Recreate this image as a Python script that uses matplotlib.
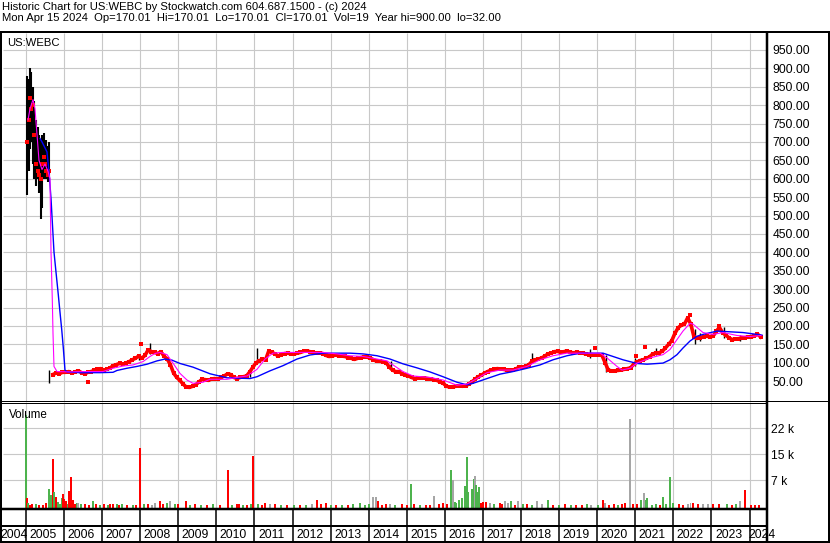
import matplotlib
matplotlib.use("Agg")
import matplotlib.pyplot as plt
from matplotlib.lines import Line2D

W, H = 830, 543
plt.rcParams.update({"font.family": ["Liberation Sans", "DejaVu Sans"], "font.size": 8.7})

TITLE1 = "Historic Chart for US:WEBC by Stockwatch.com 604.687.1500 - (c) 2024"
TITLE2 = ("Mon Apr 15 2024  Op=170.01  Hi=170.01  Lo=170.01  Cl=170.01  "
          "Vol=19  Year hi=900.00  lo=32.00")
SYMBOL = "US:WEBC"
YEARS = list(range(2005, 2025))

# early 2005 (pre-consolidation) bars
early_dates = [2005.026, 2005.066, 2005.105, 2005.144, 2005.184, 2005.223, 2005.263, 2005.302,
               2005.341, 2005.381, 2005.420, 2005.460, 2005.499, 2005.538, 2005.578, 2005.617]
early_hi = [880, 870, 900, 890, 850, 810, 760, 740, 720, 705, 720, 725, 700, 705, 690, 700]
early_lo = [555, 620, 680, 700, 640, 600, 580, 600, 560, 490, 520, 600, 610, 600, 590, 600]
early_close = [700, 760, 820, 790, 800, 720, 640, 620, 610, 600, 640, 660, 640, 620, 610, 620]

# monthly closes, Sep 2005 .. Apr 2024
close_start = 2005 + 8 / 12
closes = [
    68, 72, 70, 74,
    74, 76, 72, 75, 78, 73, 70, 74, 76, 79, 82, 84,
    80, 82, 86, 92, 95, 98, 96, 99, 103, 108, 112, 118,
    112, 120, 135, 130, 128, 125, 130, 118, 110, 95, 72, 60,
    52, 42, 34, 33, 36, 40, 48, 55, 54, 52, 56, 57,
    55, 60, 64, 70, 68, 60, 57, 60, 62, 64, 75, 88,
    100, 105, 110, 108, 132, 128, 124, 118, 122, 125, 126, 124,
    124, 126, 128, 131, 132, 130, 128, 126, 127, 125, 120, 117,
    118, 121, 119, 118, 117, 114, 112, 109, 112, 114, 116, 115,
    113, 108, 104, 104, 103, 100, 88, 80, 76, 76, 70, 66,
    64, 60, 57, 58, 58, 59, 57, 56, 54, 52, 48, 44,
    36, 34, 35, 36, 37, 36, 37, 42, 48, 55, 62, 66,
    72, 76, 80, 82, 84, 83, 82, 80, 79, 80, 84, 88,
    88, 90, 95, 104, 108, 110, 113, 118, 124, 126, 130, 131,
    128, 130, 132, 128, 127, 128, 127, 126, 124, 122, 122, 121,
    122, 120, 100, 80, 78, 78, 79, 80, 82, 84, 86, 96,
    102, 106, 108, 112, 116, 124, 126, 127, 131, 140, 150, 160,
    180, 195, 202, 205, 222, 205, 170, 166, 168, 171, 172, 171,
    172, 185, 196, 182, 175, 168, 163, 164, 165, 167, 168, 170,
    171, 172, 178, 170,
]
extra_dates = [2006.63, 2008.02, 2019.94, 2021.02, 2021.25, 2022.45, 2023.20]
extra_vals = [48, 151, 140, 118, 142, 231, 200]

spike_dates = [2005.60, 2007.98, 2008.26, 2010.88, 2011.06, 2014.58, 2018.30, 2019.80,
               2020.24, 2020.98, 2021.55, 2022.56, 2022.70, 2023.33, 2023.75]
spike_lo = [45, 108, 125, 62, 98, 82, 100, 113, 76, 90, 122, 152, 160, 168, 160]
spike_hi = [80, 125, 154, 78, 140, 106, 126, 136, 122, 112, 140, 192, 180, 196, 176]

ma_short_dates = [2005.053, 2005.105, 2005.184, 2005.236, 2005.289, 2005.341, 2005.420, 2005.499,
                  2005.578, 2005.630, 2005.657, 2005.691, 2005.709, 2005.735, 2005.814, 2006.155,
                  2006.549, 2007.022, 2007.285, 2007.547, 2007.810, 2008.073, 2008.256, 2008.388,
                  2008.519, 2008.703, 2008.860, 2009.044, 2009.228, 2009.385, 2009.648, 2009.832,
                  2010.278, 2010.541, 2010.804, 2011.066, 2011.276, 2011.486, 2011.749, 2012.117,
                  2012.458, 2012.800, 2013.167, 2013.508, 2013.850, 2014.217, 2014.480, 2014.638,
                  2014.900, 2015.163, 2015.609, 2015.951, 2016.318, 2016.581, 2016.844, 2017.106,
                  2017.448, 2017.789, 2018.157, 2018.498, 2018.840, 2019.207, 2019.680, 2020.074,
                  2020.258, 2020.520, 2020.651, 2020.861, 2021.045, 2021.387, 2021.728, 2021.912,
                  2022.096, 2022.253, 2022.437, 2022.516, 2022.779, 2023.042, 2023.305, 2023.672,
                  2024.013, 2024.302]
ma_short = [760, 790, 815, 790, 720, 650, 625, 640, 620, 600, 400, 270, 180, 90, 76, 75,
            76, 76, 85, 91, 94, 103, 117, 125, 128, 122, 99, 71, 53, 44, 47, 55,
            55, 60, 64, 82, 110, 126, 128, 128, 128, 128, 124, 119, 117, 110, 105, 94,
            76, 64, 60, 53, 39, 42, 57, 73, 80, 80, 90, 108, 119, 126, 126, 126,
            113, 90, 80, 85, 99, 113, 122, 136, 163, 186, 207, 205, 182, 177, 182, 174,
            171, 174]

ma_long_dates = [2005.368, 2005.420, 2005.551, 2005.604, 2005.657, 2005.696, 2005.735, 2005.788,
                 2005.848, 2005.893, 2005.938, 2005.980, 2006.024, 2006.077, 2006.418, 2006.943,
                 2007.285, 2007.390, 2007.652, 2007.915, 2008.178, 2008.440, 2008.650, 2008.834,
                 2009.044, 2009.385, 2009.832, 2010.278, 2010.882, 2011.066, 2011.408, 2011.749,
                 2012.117, 2012.458, 2012.800, 2013.508, 2013.850, 2014.217, 2014.559, 2014.900,
                 2015.268, 2015.609, 2015.951, 2016.318, 2016.581, 2016.739, 2017.106, 2017.448,
                 2017.789, 2018.157, 2018.498, 2018.840, 2019.207, 2019.548, 2020.152, 2020.415,
                 2020.677, 2021.045, 2021.308, 2021.728, 2021.912, 2022.096, 2022.253, 2022.437,
                 2022.621, 2022.779, 2023.147, 2023.489, 2023.830, 2024.197, 2024.328]
ma_long = [709, 700, 673, 619, 546, 473, 401, 346, 285, 237, 190, 140, 80, 75, 73, 73,
           74, 79, 85, 90, 96, 105, 110, 107, 98, 88, 70, 59, 57, 62, 78, 92,
           110, 121, 126, 126, 124, 119, 110, 97, 86, 75, 62, 47, 40, 44, 57, 69,
           76, 85, 94, 108, 119, 126, 126, 117, 108, 98, 96, 99, 108, 122, 140, 159,
           172, 177, 186, 184, 182, 177, 175]

# volume bars: g = up, r = down, k = unchanged
vol_dates = [
    2005.00, 2005.02, 2005.06, 2005.10, 2005.17, 2005.25, 2005.35, 2005.45, 2005.52, 2005.61,
    2005.66, 2005.72, 2005.74, 2005.79, 2005.85, 2005.90, 2005.94, 2005.96, 2006.01, 2006.05,
    2006.10, 2006.14, 2006.18, 2006.23, 2006.28, 2006.33, 2006.37, 2006.45, 2006.55, 2006.65,
    2006.75, 2006.85, 2006.95, 2007.05, 2007.15, 2007.20, 2007.29, 2007.38, 2007.45, 2007.51,
    2007.65, 2007.80, 2007.90, 2007.99, 2008.10, 2008.20, 2008.30, 2008.40, 2008.52, 2008.60,
    2008.70, 2008.78, 2008.91, 2009.00, 2009.19, 2009.30, 2009.45, 2009.60, 2009.75, 2009.90,
    2010.10, 2010.30, 2010.40, 2010.53, 2010.60, 2010.70, 2010.80, 2010.90, 2010.95, 2011.10,
    2011.20, 2011.28, 2011.41, 2011.55, 2011.70, 2011.85, 2012.05, 2012.20, 2012.35, 2012.50,
    2012.63, 2012.75, 2012.88, 2013.00, 2013.15, 2013.30, 2013.45, 2013.60, 2013.77, 2013.90,
    2014.00, 2014.10, 2014.19, 2014.24, 2014.35, 2014.45, 2014.56, 2014.70, 2014.87, 2015.00,
    2015.10, 2015.20, 2015.35, 2015.50, 2015.60, 2015.72, 2015.85, 2015.96, 2016.05, 2016.16,
    2016.21, 2016.27, 2016.30, 2016.37, 2016.44, 2016.53, 2016.57, 2016.61, 2016.72, 2016.76,
    2016.79, 2016.82, 2016.86, 2016.90, 2016.95, 2016.99, 2017.07, 2017.18, 2017.30, 2017.44,
    2017.50, 2017.58, 2017.65, 2017.74, 2017.85, 2017.93, 2018.05, 2018.15, 2018.30, 2018.41,
    2018.55, 2018.72, 2018.85, 2019.00, 2019.15, 2019.30, 2019.44, 2019.60, 2019.72, 2019.85,
    2020.03, 2020.14, 2020.20, 2020.30, 2020.45, 2020.55, 2020.65, 2020.73, 2020.86, 2020.95,
    2021.04, 2021.14, 2021.23, 2021.27, 2021.32, 2021.45, 2021.55, 2021.65, 2021.72, 2021.80,
    2021.91, 2022.00, 2022.15, 2022.25, 2022.39, 2022.45, 2022.52, 2022.65, 2022.79, 2022.90,
    2023.05, 2023.20, 2023.40, 2023.55, 2023.65, 2023.75, 2023.88, 2024.05, 2024.15, 2024.25,
]
vol_values = [
    26300, 2300, 1000, 400, 600, 500, 300, 400, 900, 4900,
    3300, 13600, 4000, 2600, 1300, 700, 2300, 3500, 2000, 1600,
    500, 4500, 8400, 1800, 600, 1000, 800, 700, 500, 400,
    1600, 500, 300, 700, 400, 500, 600, 600, 400, 700,
    300, 400, 300, 16700, 600, 500, 400, 900, 1600, 600,
    800, 1600, 700, 500, 1600, 400, 500, 300, 400, 500,
    300, 10500, 400, 500, 500, 400, 300, 600, 14500, 500,
    400, 1000, 700, 600, 400, 300, 400, 300, 400, 500,
    1800, 600, 1000, 400, 300, 400, 300, 500, 800, 400,
    600, 2800, 2600, 1600, 300, 500, 700, 400, 500, 400,
    6400, 500, 400, 300, 400, 3000, 500, 800, 700, 10500,
    7600, 1300, 800, 1800, 2400, 5900, 14100, 4000, 4900, 7800,
    8700, 6100, 4000, 5500, 900, 1300, 1300, 800, 500, 1000,
    600, 1600, 800, 1600, 400, 1600, 600, 500, 400, 1600,
    500, 1800, 400, 300, 500, 400, 400, 300, 500, 400,
    400, 1800, 800, 300, 500, 400, 500, 1000, 25200, 500,
    600, 1800, 3700, 1800, 2400, 400, 500, 400, 2700, 600,
    8400, 1000, 500, 400, 700, 800, 1000, 600, 500, 700,
    500, 600, 500, 400, 500, 1600, 4700, 400, 300, 400,
]
vol_dirs = (
    "grgrrgrrrg"
    "grgrgggrrr"
    "grrrrgkgrr"
    "grgrgrrgrg"
    "rgrrgrkkrr"
    "gkgrrgrgrg"
    "rrgrrgrgrg"
    "rrkrgrgrgk"
    "rrrgrgrggg"
    "gkkrrrkgrr"
    "grgrrkrrrg"
    "kggggggggg"
    "kgggrrrkgr"
    "rkkgrkgrgk"
    "kgrgrgrrgk"
    "grkrrgrrkr"
    "rgkggggrgg"
    "ggrrkkrrkk"
    "rrgrgkrrrr"
)

RED, GREEN, GREY = "#ff0000", "#4db34d", "#a6a6a6"
DIR_COLORS = {"g": GREEN, "r": RED, "k": GREY}

YR = 38.08  # pixels per year on the time axis
XMIN, XMAX = 2005 - 23 / YR, 2005 + 740 / YR


def box(x0, y0, x1, y1):
    return [x0 / W, 1 - y1 / H, (x1 - x0) / W, (y1 - y0) / H]


def fline(x0, y0, x1, y1, lw):
    fig.add_artist(Line2D([x0 / W, x1 / W], [1 - y0 / H, 1 - y1 / H],
                          transform=fig.transFigure, color="black", lw=lw * 0.72,
                          solid_capstyle="butt"))


fig = plt.figure(figsize=(W / 100, H / 100), dpi=100)
fig.patch.set_facecolor("white")

ax = fig.add_axes(box(3, 33, 766, 401))
axv = fig.add_axes(box(3, 402, 766, 509))
axs = fig.add_axes(box(3, 509, 766, 541))
for a in (ax, axv, axs):
    a.set_xlim(XMIN, XMAX)
    for s in a.spines.values():
        s.set_visible(False)
    a.set_xticks([])

GRID = "#c8c8c8"

# ---- price panel ----
ax.set_ylim(-4, 996)
ax.vlines(YEARS, -4, 996, color=GRID, lw=0.8, zorder=0)
ax.hlines(range(50, 1000, 50), XMIN, XMAX, color=GRID, lw=0.8, zorder=0)
ax.vlines(early_dates, early_lo, early_hi, color="black", lw=1.5, zorder=2)
ax.vlines(spike_dates, spike_lo, spike_hi, color="black", lw=1.0, zorder=2)
ax.plot(early_dates, early_close, ls="none", marker="s", ms=2.2, color=RED, mew=0, zorder=3)
cdates = [close_start + (i + 0.5) / 12 for i in range(len(closes))]
ax.plot(cdates, closes, color=RED, lw=2.6, marker="s", ms=3.2, mew=0, zorder=3)
ax.plot(extra_dates, extra_vals, ls="none", marker="s", ms=3.0, color=RED, mew=0, zorder=3)
ax.plot(ma_long_dates, ma_long, color="#0000ff", lw=1.0, zorder=4)
ax.plot(ma_short_dates, ma_short, color="#ff00ff", lw=0.8, zorder=5)
ax.yaxis.tick_right()
ax.set_yticks(list(range(50, 1000, 50)))
ax.set_yticklabels([f"{v:.2f}" for v in range(50, 1000, 50)])
ax.tick_params(axis="y", length=0, pad=4.5, labelsize=8.7)

# ---- volume panel ----
axv.set_ylim(-800, 30100)
axv.vlines(YEARS, -800, 30100, color=GRID, lw=0.8, zorder=0)
axv.hlines([7500, 15000, 22500], XMIN, XMAX, color=GRID, lw=0.8, zorder=0)
axv.bar(vol_dates, [v + 800 for v in vol_values], bottom=-800, width=0.052,
        color=[DIR_COLORS[c] for c in vol_dirs], lw=0, antialiased=False, zorder=2)
axv.yaxis.tick_right()
axv.set_yticks([7500, 15000, 22500])
axv.set_yticklabels(["7 k", "15 k", "22 k"])
axv.tick_params(axis="y", length=0, pad=3.6, labelsize=8.7)

# ---- year strip ----
axs.set_ylim(0, 1)
axs.set_yticks([])
axs.vlines(YEARS, 0, 1, color="black", lw=1.1)
for y in YEARS:
    off = -1 / YR if y == 2024 else 3.5 / YR
    axs.text(y + off, 0.2, str(y), ha="left", va="center", fontsize=8.7, clip_on=False)
axs.text(XMIN - 2.5 / YR, 0.2, "2004", ha="left", va="center", fontsize=8.7, clip_on=False)

# ---- texts ----
fig.text(2 / W, 1 - 10.5 / H, TITLE1, fontsize=8.1, va="baseline")
fig.text(2 / W, 1 - 21 / H, TITLE2, fontsize=8.1, va="baseline")
fig.text(7 / W, 1 - 46 / H, SYMBOL, fontsize=8.1, va="baseline")
fig.text(9 / W, 1 - 418 / H, "Volume", fontsize=8.4, va="baseline")

# ---- frame ----
fline(0, 32, 830, 32, 2)
fline(1, 32, 1, 543, 2)
fline(828.5, 32, 828.5, 543, 2)
fline(0, 542, 830, 542, 2)
fline(766.5, 32, 766.5, 543, 2.5)
fline(0, 400.5, 830, 400.5, 1)
fline(0, 402.5, 766, 402.5, 1)
fline(0, 509, 766, 509, 2.5)
fline(0, 526, 766, 526, 2)

fig.savefig("out.png", dpi=100, facecolor="white")
